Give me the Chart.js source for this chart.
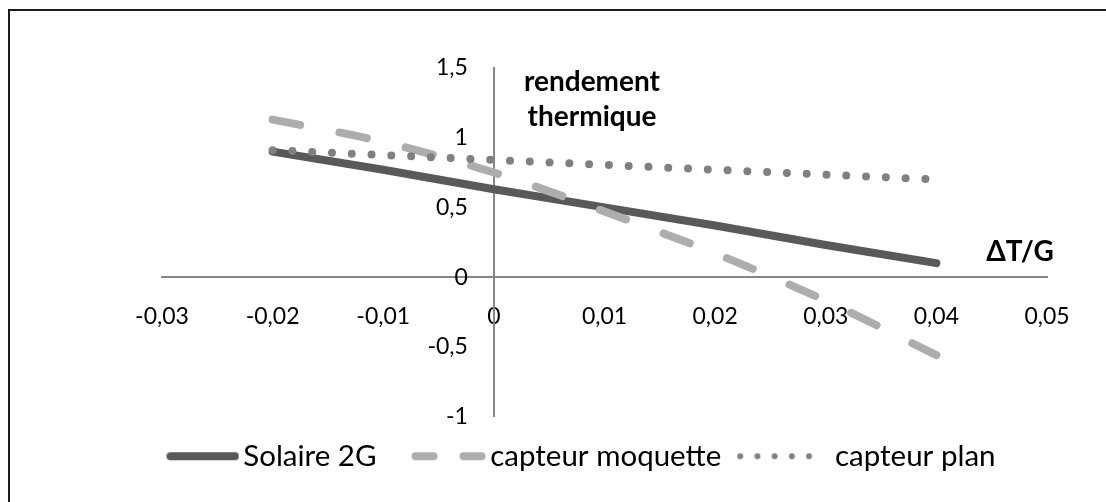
<!DOCTYPE html>
<html>
<head>
<meta charset="utf-8">
<script src="https://cdn.jsdelivr.net/npm/chart.js@4.4.0/dist/chart.umd.min.js"></script>
<style>
html,body{margin:0;padding:0;background:#fff;}
#wrap{position:relative;width:1106px;height:502px;overflow:hidden;background:#fff;}
#frame{position:absolute;left:8px;top:9px;width:1200px;height:600px;border-left:2px solid #1a1a1a;border-top:2px solid #1a1a1a;}
#c{position:absolute;left:0;top:0;}
</style>
</head>
<body>
<div id="wrap"><div id="frame"></div><canvas id="c" width="1106" height="502"></canvas></div>
<script>
// ---- data ----
const xValues = [-0.02, -0.01, 0, 0.01, 0.02, 0.03, 0.04];
const solaire2G = [0.90, 0.77, 0.63, 0.50, 0.37, 0.23, 0.10];
const capteurMoquette = [1.13, 0.97, 0.75, 0.47, 0.17, -0.17, -0.56];
const capteurPlan = [0.91, 0.875, 0.84, 0.805, 0.77, 0.735, 0.70];
const seriesNames = ['Solaire 2G', 'capteur moquette', 'capteur plan'];
const xTickValues = [-0.03, -0.02, -0.01, 0, 0.01, 0.02, 0.03, 0.04, 0.05];
const xTickLabels = ['-0,03', '-0,02', '-0,01', '0', '0,01', '0,02', '0,03', '0,04', '0,05'];
const yTickValues = [-1, -0.5, 0, 0.5, 1, 1.5];
const yTickLabels = ['-1', '-0,5', '0', '0,5', '1', '1,5'];
const yAxisTitle = ['rendement', 'thermique'];
const xAxisTitle = 'ΔT/G';

const FONT = 'Lato';
const pts = (ys) => xValues.map((x, i) => ({x: x, y: ys[i]}));

function makeSample(draw) {
  const c = document.createElement('canvas');
  c.width = 96; c.height = 12;
  const g = c.getContext('2d');
  draw(g);
  return c;
}
const samples = [
  makeSample(g => { g.strokeStyle = '#595959'; g.lineWidth = 8; g.lineCap = 'round';
    g.beginPath(); g.moveTo(27, 6); g.lineTo(91.5, 6); g.stroke(); }),
  makeSample(g => { g.strokeStyle = '#adadad'; g.lineWidth = 8; g.lineCap = 'round'; g.setLineDash([18, 30]);
    g.beginPath(); g.moveTo(25, 6); g.lineTo(91, 6); g.stroke(); }),
  makeSample(g => { g.fillStyle = '#808080';
    for (let k = 0; k < 5; k++) { g.beginPath(); g.arc(5 + k * 17.2, 6, 3, 0, Math.PI * 2); g.fill(); } })
];

const titlePlugin = {
  id: 'axisTitles',
  afterDraw(chart) {
    const ctx = chart.ctx;
    ctx.save();
    ctx.font = 'bold 28px ' + FONT;
    ctx.fillStyle = '#000';
    ctx.textAlign = 'center';
    ctx.textBaseline = 'middle';
    ctx.fillText(yAxisTitle[0], 592, 82);
    ctx.fillText(yAxisTitle[1], 592, 117);
    ctx.fillText(xAxisTitle, 1020, 252);
    ctx.restore();
  }
};

// the y scale sits on x = 0; move its labels a little to the left of the axis line
const yLabelShift = {
  id: 'yLabelShift',
  beforeDraw(chart) {
    const items = chart.scales.y.getLabelItems();
    if (!items._shifted) {
      items.forEach(it => { it.options.translation[0] -= 26; });
      items._shifted = true;
    }
  }
};

function build() {
  new Chart(document.getElementById('c'), {
    type: 'scatter',
    data: {
      datasets: [
        { label: seriesNames[0], data: pts(solaire2G), showLine: true, borderColor: '#595959', backgroundColor: '#595959',
          borderWidth: 8, borderCapStyle: 'round', borderJoinStyle: 'round', pointRadius: 0, order: 3 },
        { label: seriesNames[1], data: pts(capteurMoquette), showLine: true, borderColor: '#adadad', backgroundColor: '#adadad',
          borderWidth: 8, borderCapStyle: 'round', borderJoinStyle: 'round', borderDash: [28, 40],
          cubicInterpolationMode: 'monotone', pointRadius: 0, order: 2 },
        { label: seriesNames[2], data: pts(capteurPlan), showLine: true, borderColor: '#808080', backgroundColor: '#808080',
          borderWidth: 8, borderCapStyle: 'round', borderDash: [0, 19.8], pointRadius: 0, order: 1 }
      ]
    },
    options: {
      responsive: false,
      animation: false,
      events: [],
      layout: { padding: { left: 103, right: 59, top: 68, bottom: 21 } },
      scales: {
        x: {
          type: 'linear', min: -0.03, max: 0.05, position: { y: 0 },
          afterBuildTicks: s => { s.ticks = xTickValues.map(v => ({ value: v })); },
          ticks: { callback: (v, i) => xTickLabels[i], color: '#000', font: { family: FONT, size: 23 },
                   padding: 26, maxRotation: 0, autoSkip: false },
          grid: { display: false, drawTicks: false },
          border: { display: true, color: '#868686', width: 2 }
        },
        y: {
          type: 'linear', min: -1, max: 1.5, position: { x: 0 },
          afterBuildTicks: s => { s.ticks = yTickValues.map(v => ({ value: v })); },
          ticks: { callback: (v, i) => yTickLabels[i], color: '#000', font: { family: FONT, size: 23 },
                   padding: 0, autoSkip: false },
          grid: { display: false, drawTicks: false },
          border: { display: true, color: '#868686', width: 2 }
        },
        spacer: {
          type: 'linear', position: 'left', axis: 'y', display: true,
          afterFit: s => { s.width = 59; },
          ticks: { display: false }, grid: { display: false, drawTicks: false }, border: { display: false }
        }
      },
      plugins: {
        tooltip: { enabled: false },
        legend: {
          position: 'bottom',
          labels: {
            usePointStyle: true, pointStyleWidth: 74, padding: 25, color: '#000',
            font: { family: FONT, size: 29.5 },
            sort: (a, b) => a.datasetIndex - b.datasetIndex,
            generateLabels: chart => {
              const items = Chart.defaults.plugins.legend.labels.generateLabels(chart);
              items.forEach(it => { it.pointStyle = samples[it.datasetIndex]; });
              return items;
            }
          }
        }
      }
    },
    plugins: [titlePlugin, yLabelShift]
  });
}
if (document.fonts && document.fonts.load) {
  Promise.all([document.fonts.load('23px Lato'), document.fonts.load('bold 28px Lato')]).then(build, build);
} else { build(); }
</script>
</body>
</html>
